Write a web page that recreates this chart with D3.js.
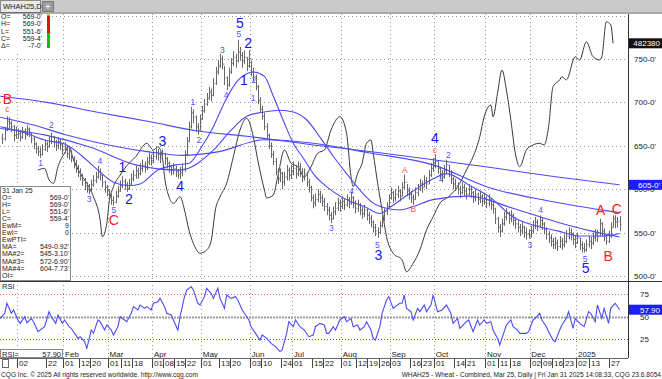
<!DOCTYPE html>
<html>
<head>
<meta charset="utf-8">
<script src="https://cdn.jsdelivr.net/npm/d3@7"></script>
<style>
  body { margin: 0; background: #fff; }
  svg { display: block; font-family: "Liberation Sans", Arial, sans-serif; }
</style>
</head>
<body>
<svg id="chart" width="662" height="379"></svg>
<script>
/* WHAH25 daily - bars, moving averages, open interest, RSI */

// trading calendar
var holidays = ["2023-12-25","2024-01-01","2024-01-15","2024-02-19","2024-03-29","2024-05-27",
  "2024-06-19","2024-07-04","2024-09-02","2024-11-28","2024-12-25","2025-01-01","2025-01-09","2025-01-20"];

// daily bars [high, low, close]
var dec23 = [[664,652,658],[672,656,668],[684,667,678],[683,670,676],[679,666,672],[674,655,662],[672,658,668]];
var jan24 = [[670,658,664],[668,655,660],[672,658,667],[670,657,663],[674,661,669],[671,660,665],[666,653,658],
  [660,646,652],[654,641,647],[650,638,643],[648,636,640],[652,639,646],[657,644,652],[655,643,649],[661,648,655],
  [665,652,660],[661,648,654],[657,644,650],[660,646,655],[658,645,651],[653,640,646]];
var feb24 = [[654,641,648],[650,636,641],[648,634,643],[645,631,636],[638,624,630],[634,619,626],[628,614,620],
  [624,610,615],[618,604,610],[613,599,604],[608,596,600],[606,594,598],[611,597,605],[616,603,610],[620,607,614],
  [627,612,620],[624,610,616],[617,602,608],[610,596,602],[605,592,598]];
var mar24 = [[600,586,592],[595,582,587],[592,581,585],[598,584,592],[604,590,598],[610,597,604],[615,601,609],
  [612,599,605],[608,597,601],[612,599,606],[618,604,612],[622,609,616],[627,612,621],[625,612,618],[630,616,624],
  [634,620,628],[632,619,625],[637,622,631],[642,628,636],[640,627,633]];
var apr24 = [[644,630,638],[647,634,642],[646,633,640],[643,630,636],[646,633,641],[642,628,635],[637,624,630],
  [632,619,626],[628,616,622],[630,617,624],[627,614,620],[623,612,617],[626,612,619],[629,615,623],[645,620,640],
  [660,638,655],[678,654,672],[695,670,688],[692,676,683],[685,666,672],[676,663,668],[686,668,680]];
var may24 = [[696,680,690],[704,688,698],[711,696,705],[718,703,712],[716,701,708],[728,707,722],[741,720,735],
  [749,732,742],[756,740,750],[754,738,744],[742,720,728],[730,714,720],[740,718,735],[751,733,745],[759,742,752],
  [756,740,748],[772,746,758],[764,748,754],[758,740,748],[760,744,752],[752,736,742],[760,740,750]];
var jun24 = [[748,730,735],[740,724,730],[732,714,718],[720,698,702],[706,688,692],[696,680,684],[688,668,672],
  [676,658,662],[664,646,650],[654,636,640],[644,628,632],[636,616,620],[624,606,612],[624,608,618],[620,600,608],
  [620,604,614],[628,610,622],[625,610,616],[628,612,620]];
var jul24 = [[632,616,624],[628,612,618],[632,615,626],[630,614,620],[624,608,614],[624,610,618],[620,603,608],
  [612,596,602],[604,586,590],[594,578,584],[595,580,588],[600,585,594],[598,584,590],[594,580,586],[590,575,580],
  [584,570,576],[580,564,570],[574,561,566],[580,565,574],[585,570,578],[590,575,584],[588,574,580]];
var aug24 = [[592,577,586],[589,576,582],[594,580,588],[591,578,584],[597,582,590],[592,578,584],[587,572,578],
  [588,574,582],[584,570,576],[580,566,572],[582,568,576],[578,564,570],[574,560,566],[570,556,562],[564,550,556],
  [560,546,552],[556,544,550],[563,548,558],[570,556,566],[578,563,574],[585,570,580],[594,578,590]];
var sep24 = [[602,588,596],[598,584,590],[600,586,594],[604,590,598],[600,586,592],[608,592,602],[617,600,608],
  [606,592,598],[602,588,594],[598,584,590],[594,582,588],[602,588,596],[606,592,600],[612,598,606],[610,596,602],
  [616,602,610],[614,600,606],[622,606,616],[630,614,624],[636,620,630]];
var oct24 = [[640,624,632],[632,618,624],[626,612,618],[622,608,614],[628,612,622],[634,618,628],[628,614,620],
  [622,606,612],[614,600,606],[612,598,604],[608,594,600],[604,590,596],[608,594,602],[606,592,598],[602,588,594],
  [606,592,600],[604,590,596],[598,584,590],[600,586,594],[596,582,588],[598,584,592],[594,580,586],[596,582,590]];
var nov24 = [[592,578,584],[594,580,588],[590,576,582],[586,572,578],[578,560,566],[568,550,556],[560,545,552],
  [566,550,560],[574,558,568],[578,564,572],[574,560,566],[576,562,570],[572,558,564],[568,554,560],[564,550,556],
  [560,546,552],[562,548,556],[558,544,550],[556,542,548],[554,543,546]];
var dec24 = [[558,544,552],[564,549,558],[568,554,562],[565,552,558],[570,556,564],[567,553,560],[562,548,554],
  [556,542,548],[552,538,544],[548,534,540],[544,531,536],[545,531,538],[542,529,534],[546,532,540],[544,530,536],
  [548,533,540],[553,538,546],[556,542,550],[555,541,548],[550,536,542],[546,532,538]];
var jan25 = [[550,537,544],[544,530,536],[540,527,532],[538,527,530],[542,528,536],[546,533,540],[545,531,538],
  [550,536,544],[554,540,548],[553,539,546],[566,546,560],[562,545,552],[555,540,546],[548,536,540],[552,538,546],
  [562,544,556],[570,556,566],[570,555,562],[568,556,563],[569,551.75,559.5]];

// moving averages [bar, value]
var ma1 = [[-1,672],[10,665],[20,656],[28,652],[35,640],[43,622],[50,608],[57,604],[62,606],[70,622],[78,628],
  [84,630],[90,650],[95,672],[100,700],[105,722],[110,733],[113,735],[118,730],[122,707],[127,676],[131,653],
  [136,634],[140,618],[146,603],[155,588],[163,580],[170,572],[175,580],[185,598],[194,612],[200,618],[210,605],
  [220,590],[230,568],[240,558],[250,552],[260,546],[270,546],[278,549]];
var ma2 = [[-1,670],[20,662],[40,648],[60,628],[80,622],[95,645],[103,668],[110,684],[118,689],[125,691],[131,689],
  [137,680],[143,660],[149,638],[155,618],[161,599],[167,584],[173,578],[179,576],[185,580],[194,588],[210,592],
  [230,578],[250,562],[265,552],[278,545]];
var ma3 = [[-1,683],[14,674],[28,663],[44,653],[66,643],[81,639],[97,643],[118,657],[140,653],[165,642],[194,628],
  [219,602],[245,587],[278,573]];
var ma4 = [[-1,707],[20,700],[44,688],[66,678],[88,667],[110,661],[140,651],[170,642],[194,634],[220,625],
  [250,614],[278,605]];

// open interest [bar, contracts]
var openInt = [[16,399400],[19,400500],[21,392900],[23,390700],[25,401600],[28,410600],[30,414700],[32,406000],
  [35,397300],[38,390700],[41,381900],[44,366700],[45,355700],[47,364500],[48,377600],[50,388500],[53,396100],
  [56,402200],[60,408100],[65,416900],[68,412500],[70,414700],[72,408100],[73,395000],[75,381900],[77,377600],
  [80,381900],[82,373200],[84,360100],[86,351400],[89,344900],[92,347000],[94,353000],[96,374000],[98,381900],
  [101,390700],[104,408100],[107,425600],[110,433300],[113,421200],[115,406000],[118,386300],[119,381100],
  [122,383000],[124,395000],[127,412500],[130,403800],[133,401600],[136,395000],[139,401600],[142,410400],
  [145,412500],[148,425600],[152,434300],[155,423500],[157,395000],[158,388500],[160,397300],[162,403800],
  [164,416900],[166,419100],[167,410400],[169,390700],[171,373200],[173,355700],[176,344900],[180,340500],
  [182,332800],[185,338300],[188,347000],[191,360100],[194,368800],[197,377600],[201,381900],[206,390700],
  [209,399400],[212,408100],[215,421200],[217,434300],[220,442000],[221,434300],[223,449700],[225,464900],
  [227,451800],[229,432200],[231,410400],[233,401600],[236,412500],[239,415800],[242,416900],[244,415800],
  [246,427800],[248,454000],[251,458400],[252,460500],[254,458400],[258,473600],[260,471500],[263,483400],
  [266,473600],[269,471500],[270,473600],[272,496500],[274,494400],[275,482380]];

// RSI [bar, value]
var rsi = [[-1,48.3],[1,53.9],[2,65],[4,53.9],[5,57.6],[7,46.5],[8,42.7],[10,50.2],[11,43.5],[13,48.3],[14,44.6],
  [16,33.5],[19,39],[21,55.7],[22,50.2],[24,42.7],[25,52],[27,42.7],[28,46.5],[30,39],[31,37.2],[34,26],[35,27.9],
  [37,22.4],[38,15],[40,35.3],[41,31.6],[43,46.5],[44,44.6],[46,35.3],[47,40.9],[49,35.3],[50,29.8],[52,39],
  [53,50.2],[55,46.5],[56,44.6],[58,53.9],[59,61.3],[61,57.6],[62,63.1],[64,59.4],[65,61.3],[67,57.6],[68,65],
  [70,66.8],[71,70.5],[73,61.3],[74,53.9],[76,52],[77,46.5],[79,35.3],[80,50.2],[82,72.4],[83,79.8],[85,83.5],
  [86,79.8],[88,65],[89,63.1],[91,72.4],[92,81.6],[94,76.1],[95,70.5],[97,81.6],[98,70.5],[100,59.4],[101,74.2],
  [103,70.5],[105,72.4],[106,68.7],[108,57.6],[109,53.9],[111,46.5],[112,39],[114,31.6],[116,24.2],[117,29.8],
  [119,26],[121,20.5],[123,16.8],[125,11.3],[126,13.1],[128,31.6],[129,44.6],[131,39],[132,46.5],[134,39],
  [136,35.3],[138,27.9],[140,29.8],[141,39],[143,42.7],[145,40.9],[146,31.6],[147,31.6],[149,39],[150,35.3],
  [152,46.5],[154,50.2],[155,44.6],[157,48.3],[158,39],[160,40.9],[161,35.3],[163,39],[164,44.6],[166,35.3],
  [167,26],[168,24.2],[170,39],[171,53.9],[173,68.7],[174,72.4],[176,59.4],[177,61.3],[179,65],[180,65],
  [181,74.2],[182,59.4],[184,55.7],[185,46.5],[187,59.4],[188,55.7],[190,63.1],[191,55.7],[193,63.1],[194,74.2],
  [196,55.7],[198,57.6],[200,63.1],[202,53.9],[203,42.7],[205,48.3],[206,37.2],[209,44.6],[210,46.5],[212,33.5],
  [214,46.5],[215,40.9],[217,46.5],[218,42.7],[220,44.6],[221,35.3],[223,26],[224,18.7],[226,33.5],[227,40.9],
  [229,46.5],[230,39],[232,35.3],[233,31.6],[236,31.6],[237,33.5],[239,46.5],[240,48.3],[242,53.9],[243,46.5],
  [245,39],[246,33.5],[248,24.2],[249,22.4],[251,35.3],[252,40.9],[254,48.3],[255,55.7],[257,37.2],[258,48.3],
  [260,42.7],[262,39],[264,55.7],[265,53.9],[267,44.6],[268,63.1],[270,48.3],[271,59.4],[273,42.7],[274,59.4],
  [276,65],[278,57.9]];

// elliott wave counts [text, bar, price, degree]
var waves = [["B",2.2,704,"major"],["c",2.2,692,"minor"],["1",17.2,630,"minor"],["2",22,674,"minor"],
  ["3",39,589,"minor"],["4",43.9,632,"minor"],["5",50.2,576,"minor"],["C",50.2,564,"major"],
  ["1",54,626,"major"],["2",57,589,"major"],["3",72,655,"major"],["4",80,603,"major"],
  ["1",85.8,700,"minor"],["2",88.5,657,"minor"],["3",99,760,"minor"],["4",100.8,708,"minor"],
  ["5",106.5,779,"minor"],["5",106.9,791,"major"],["1",108.8,726,"major"],["2",110.7,768,"major"],
  ["1",112.9,705,"minor"],["2",113.3,726,"minor"],["3",148.1,555,"minor"],["4",157.3,598,"minor"],
  ["5",168.9,536,"minor"],["3",169.3,524,"major"],["A",181.2,622,"minor"],["B",185.1,577,"minor"],
  ["4",194.8,659,"major"],["c",194.8,645,"minor"],["1",197.4,613,"minor"],["2",200.8,639,"minor"],
  ["3",237.6,536,"minor"],["4",242.4,576,"minor"],["5",262.4,520,"minor"],["5",262.7,509,"major"],
  ["A",269.5,576,"major"],["B",272.8,523,"major"],["C",276.7,577,"major"]];

// axis labels
var priceTicks = [500, 550, 600, 650, 700, 750];
var priceGrid = [500, 550, 600, 650, 700, 750, 800];
var rsiTicks = [25, 50, 75];
var dayTicks = ["2024-01-02","2024-01-22","2024-02-01","2024-02-12","2024-02-20","2024-03-01","2024-03-11",
  "2024-03-18","2024-04-01","2024-04-08","2024-04-15","2024-04-22","2024-05-01","2024-05-13","2024-05-20",
  "2024-06-03","2024-06-10","2024-06-24","2024-07-01","2024-07-15","2024-07-22","2024-08-01","2024-08-12",
  "2024-08-19","2024-08-26","2024-09-03","2024-09-16","2024-09-23","2024-10-01","2024-10-14","2024-10-21",
  "2024-11-01","2024-11-11","2024-11-18","2024-12-02","2024-12-09","2024-12-16","2024-12-23","2025-01-02",
  "2025-01-13","2025-01-27"];
var monthStarts = ["2024-02-01","2024-03-01","2024-04-01","2024-05-01","2024-06-03","2024-07-01","2024-08-01",
  "2024-09-03","2024-10-01","2024-11-01","2024-12-02","2025-01-02"];
var monthNames = ["Feb","Mar","Apr","May","Jun","Jul","Aug","Sep","Oct","Nov","Dec","2025"];

var lastBar = {date: "31 Jan 25", O: "569-0'", H: "569-0'", L: "551-6'", C: "559-4'", chg: "-7-0'"};
var studyLines = [["EwM=", "9"], ["EwI=", "0"], ["EwPTI=", ""], ["MA=", "549-0.92'"], ["MA#2=", "545-3.10'"],
  ["MA#3=", "572-6.90'"], ["MA#4=", "604-7.73'"], ["OI=", ""]];

var fmt = d3.timeFormat("%Y-%m-%d");
var dates = d3.timeDay.range(new Date(2023, 11, 20), new Date(2025, 1, 1))
  .filter(function(d) { return d.getDay() % 6 !== 0 && holidays.indexOf(fmt(d)) < 0; })
  .map(fmt);
var bars = [].concat(dec23, jan24, feb24, mar24, apr24, may24, jun24, jul24, aug24, sep24, oct24, nov24, dec24, jan25);
var dateIndex = new Map(dates.map(function(d, i) { return [d, i]; }));

var W = 662, H = 379;
var plotRight = 628, mainTop = 14, mainBottom = 281, rsiBottom = 358;

var x = d3.scaleLinear().domain([-1.108, 281.77]).range([0, plotRight]);
var y = d3.scaleLinear().domain([500, 750]).range([276, 59]);
var yOI = d3.scaleLinear().domain([330000, 482380]).range([276, 43.3]);
var yRsi = d3.scaleLinear().domain([25, 75]).range([339.3, 294.3]);

var svg = d3.select("#chart");
var defs = svg.append("defs");
defs.append("clipPath").attr("id", "clipMain").append("rect")
  .attr("x", 0).attr("y", mainTop).attr("width", plotRight).attr("height", mainBottom - mainTop);
defs.append("clipPath").attr("id", "clipRsi").append("rect")
  .attr("x", 0).attr("y", mainBottom).attr("width", plotRight).attr("height", rsiBottom - mainBottom);

svg.append("rect").attr("width", W).attr("height", H).attr("fill", "#fff");

// header tab strip
svg.append("rect").attr("x", 0).attr("y", 0).attr("width", W).attr("height", 12).attr("fill", "#c9c9c9");
svg.append("rect").attr("x", 0.5).attr("y", 0.5).attr("width", 40).attr("height", 12)
  .attr("fill", "#e9e9e9").attr("stroke", "#8a8a8a");
svg.append("text").attr("x", 3).attr("y", 9).attr("font-size", 7.5).attr("fill", "#222").text("WHAH25,D");
svg.append("rect").attr("x", 42.5).attr("y", 1.5).attr("width", 11).attr("height", 10)
  .attr("fill", "#9b9b9b").attr("stroke", "#7a7a7a");
svg.append("path").attr("d", "M45.5,6.5H50.5M48,4V9").attr("stroke", "#eee").attr("stroke-width", 1);
svg.append("line").attr("x1", 0).attr("x2", W).attr("y1", 13).attr("y2", 13).attr("stroke", "#555");

var gMain = svg.append("g").attr("clip-path", "url(#clipMain)");
var gRsi = svg.append("g").attr("clip-path", "url(#clipRsi)");

// grid
var gridX = ["2024-01-02"].concat(monthStarts).map(function(d) { return Math.round(x(dateIndex.get(d)) - 1.3) + 0.5; });
gMain.selectAll(".vg").data(gridX).enter().append("line")
  .attr("x1", function(d) { return d; }).attr("x2", function(d) { return d; })
  .attr("y1", mainTop).attr("y2", mainBottom)
  .attr("stroke", "#9a9a9a").attr("stroke-dasharray", "1,3");
gMain.selectAll(".hg").data(priceGrid).enter().append("line")
  .attr("x1", 0).attr("x2", plotRight)
  .attr("y1", function(d) { return Math.round(y(d)) + 0.5; }).attr("y2", function(d) { return Math.round(y(d)) + 0.5; })
  .attr("stroke", "#9a9a9a").attr("stroke-dasharray", "1,3");
gRsi.selectAll(".vg").data(gridX).enter().append("line")
  .attr("x1", function(d) { return d; }).attr("x2", function(d) { return d; })
  .attr("y1", mainBottom).attr("y2", rsiBottom)
  .attr("stroke", "#9a9a9a").attr("stroke-dasharray", "1,3");

// open interest
var oiLine = d3.line().x(function(d) { return x(d[0]); }).y(function(d) { return yOI(d[1]); }).curve(d3.curveMonotoneX);
gMain.append("path").attr("d", oiLine(openInt)).attr("fill", "none").attr("stroke", "#3a3a3a").attr("stroke-width", 1);

// price bars
var barPath = bars.map(function(b, i) {
  var xi = Math.round(x(i)) + 0.5;
  var prevC = i > 0 ? bars[i - 1][2] : b[2];
  return "M" + xi + "," + y(b[0]) + "V" + y(b[1]) +
    "M" + (xi - 1) + "," + y(prevC) + "H" + xi +
    "M" + xi + "," + y(b[2]) + "H" + (xi + 1);
}).join("");
gMain.append("path").attr("d", barPath).attr("fill", "none").attr("stroke", "#676767").attr("stroke-width", 1);

// moving averages
var maLine = d3.line().x(function(d) { return x(d[0]); }).y(function(d) { return y(d[1]); }).curve(d3.curveMonotoneX);
[ma4, ma3, ma2, ma1].forEach(function(m) {
  gMain.append("path").attr("d", maLine(m)).attr("fill", "none").attr("stroke", "#4b4bf5").attr("stroke-width", 1.1);
});

// wave labels
gMain.selectAll(".wave").data(waves).enter().append("text")
  .attr("x", function(d) { return x(d[1]); })
  .attr("y", function(d) { return y(d[2]); })
  .attr("dy", "0.35em")
  .attr("text-anchor", "middle")
  .attr("font-size", function(d) { return d[3] === "major" ? 14 : 8.5; })
  .attr("fill", function(d) {
    var letter = /[A-Za-z]/.test(d[0]);
    if (letter) return d[3] === "major" ? "#ff2020" : "#ff5050";
    return d[3] === "major" ? "#1414ff" : "#5050ff";
  })
  .text(function(d) { return d[0]; });

// RSI panel
var rsiLevels = [[75, "#ff6060"], [50, "#9a9a9a"], [25, "#5050ff"]];
rsiLevels.forEach(function(l) {
  gRsi.append("line").attr("x1", 0).attr("x2", plotRight)
    .attr("y1", Math.round(yRsi(l[0])) + 0.5).attr("y2", Math.round(yRsi(l[0])) + 0.5)
    .attr("stroke", l[1]).attr("stroke-width", l[0] === 50 ? 2 : 1).attr("stroke-dasharray", l[0] === 50 ? "2,1" : "1,2");
});
var rsiLine = d3.line().x(function(d) { return x(d[0]); }).y(function(d) { return yRsi(d[1]); });
gRsi.append("path").attr("d", rsiLine(rsi)).attr("fill", "none").attr("stroke", "#4b4bf5").attr("stroke-width", 1.1);
svg.append("text").attr("x", 2).attr("y", 289).attr("font-size", 7.5).attr("fill", "#222").text("RSI");

// month labels inside RSI panel
svg.selectAll(".mon").data(monthStarts).enter().append("text")
  .attr("x", function(d) { return x(dateIndex.get(d)) + 0.5; })
  .attr("y", 357)
  .attr("font-size", 8).attr("fill", "#222")
  .text(function(d, i) { return monthNames[i]; });

// RSI value box
svg.append("rect").attr("x", 0.5).attr("y", 349.5).attr("width", 62).attr("height", 8).attr("fill", "#fff").attr("stroke", "#888");
svg.append("text").attr("x", 2).attr("y", 356.5).attr("font-size", 7.5).attr("fill", "#222").text("RSI=");
svg.append("text").attr("x", 61).attr("y", 356.5).attr("font-size", 7.5).attr("fill", "#222").attr("text-anchor", "end").text("57.90");

// frames
svg.append("line").attr("x1", plotRight + 0.5).attr("x2", plotRight + 0.5).attr("y1", mainTop).attr("y2", rsiBottom).attr("stroke", "#333");
svg.append("line").attr("x1", 0).attr("x2", W).attr("y1", mainBottom + 0.5).attr("y2", mainBottom + 0.5).attr("stroke", "#333");
svg.append("line").attr("x1", 0).attr("x2", plotRight).attr("y1", rsiBottom + 0.5).attr("y2", rsiBottom + 0.5).attr("stroke", "#666");

// day axis
var dayG = svg.append("g");
dayTicks.forEach(function(d) {
  var xi = Math.round(x(dateIndex.get(d)) - 1.3) + 0.5;
  dayG.append("line").attr("x1", xi).attr("x2", xi).attr("y1", 359).attr("y2", 368).attr("stroke", "#444");
  dayG.append("text").attr("x", xi + 1.5).attr("y", 365.5).attr("font-size", 8).attr("fill", "#222").text(d.slice(8));
});
svg.append("rect").attr("x", 2.5).attr("y", 359.5).attr("width", 6).attr("height", 8).attr("fill", "#fff").attr("stroke", "#666");

// right price axis
svg.selectAll(".pt").data(priceTicks).enter().append("text")
  .attr("x", 634).attr("y", function(d) { return y(d) + 3; })
  .attr("font-size", 8).attr("fill", "#222")
  .text(function(d) { return d + "-0'"; });
svg.selectAll(".rt").data(rsiTicks).enter().append("text")
  .attr("x", 640).attr("y", function(d) { return yRsi(d) + 3; })
  .attr("font-size", 8).attr("fill", "#222")
  .text(function(d) { return d; });

// last value tags
function tag(yc, txt, bg) {
  svg.append("rect").attr("x", 629).attr("y", yc - 5).attr("width", 33).attr("height", 10).attr("fill", bg);
  svg.append("text").attr("x", 660).attr("y", yc + 3).attr("font-size", 8).attr("fill", "#fff")
    .attr("text-anchor", "end").text(txt);
}
tag(yOI(openInt[openInt.length - 1][1]), d3.format("d")(openInt[openInt.length - 1][1]), "#111");
tag(y(ma4[ma4.length - 1][1]), "605-0'", "#1c1cff");
tag(yRsi(rsi[rsi.length - 1][1]), "57.90", "#1c1cff");

// top-left quote box
var qb = svg.append("g");
qb.append("rect").attr("x", 0).attr("y", 14).attr("width", 46).attr("height", 37).attr("fill", "#fff");
[["O=", lastBar.O], ["H=", lastBar.H], ["L=", lastBar.L], ["C=", lastBar.C], ["\u0394=", lastBar.chg]].forEach(function(r, i) {
  qb.append("text").attr("x", 1).attr("y", 19 + i * 7.3).attr("font-size", 7).attr("fill", "#222").text(r[0]);
  qb.append("text").attr("x", 42).attr("y", 19 + i * 7.3).attr("font-size", 7).attr("fill", "#222")
    .attr("text-anchor", "end").text(r[1]);
});
qb.append("rect").attr("x", 47).attr("y", 14).attr("width", 3).attr("height", 1.5).attr("fill", "#e8d800");
qb.append("rect").attr("x", 47).attr("y", 15.5).attr("width", 3).attr("height", 17.5).attr("fill", "#e81010");
qb.append("rect").attr("x", 47).attr("y", 33).attr("width", 3).attr("height", 15).attr("fill", "#10c010");

// bottom-left data box
var db = svg.append("g");
db.append("rect").attr("x", 0.5).attr("y", 186.5).attr("width", 70).attr("height", 94).attr("fill", "#fff").attr("stroke", "#8a8a8a");
var rows = [["O=", lastBar.O], ["H=", lastBar.H], ["L=", lastBar.L], ["C=", lastBar.C]].concat(studyLines);
db.append("text").attr("x", 2).attr("y", 192.5).attr("font-size", 7).attr("fill", "#222").text(lastBar.date);
rows.forEach(function(r, i) {
  var yy = 192.5 + (i + 1) * 7.1;
  db.append("text").attr("x", 2).attr("y", yy).attr("font-size", 7).attr("fill", "#222").text(r[0]);
  db.append("text").attr("x", 69).attr("y", yy).attr("font-size", 7).attr("fill", "#222")
    .attr("text-anchor", "end").text(r[1]);
});

// footer
svg.append("text").attr("x", 1).attr("y", 376.5).attr("font-size", 6.6).attr("fill", "#222")
  .text("CQG Inc. \u00a9 2025 All rights reserved worldwide. http://www.cqg.com");
svg.append("text").attr("x", 661).attr("y", 376.5).attr("font-size", 6.6).attr("fill", "#222").attr("text-anchor", "end")
  .text("WHAH25 - Wheat - Combined, Mar 25, Daily | Fri Jan 31 2025 14:08:33, CQG 23.6.8054");
</script>
</body>
</html>
